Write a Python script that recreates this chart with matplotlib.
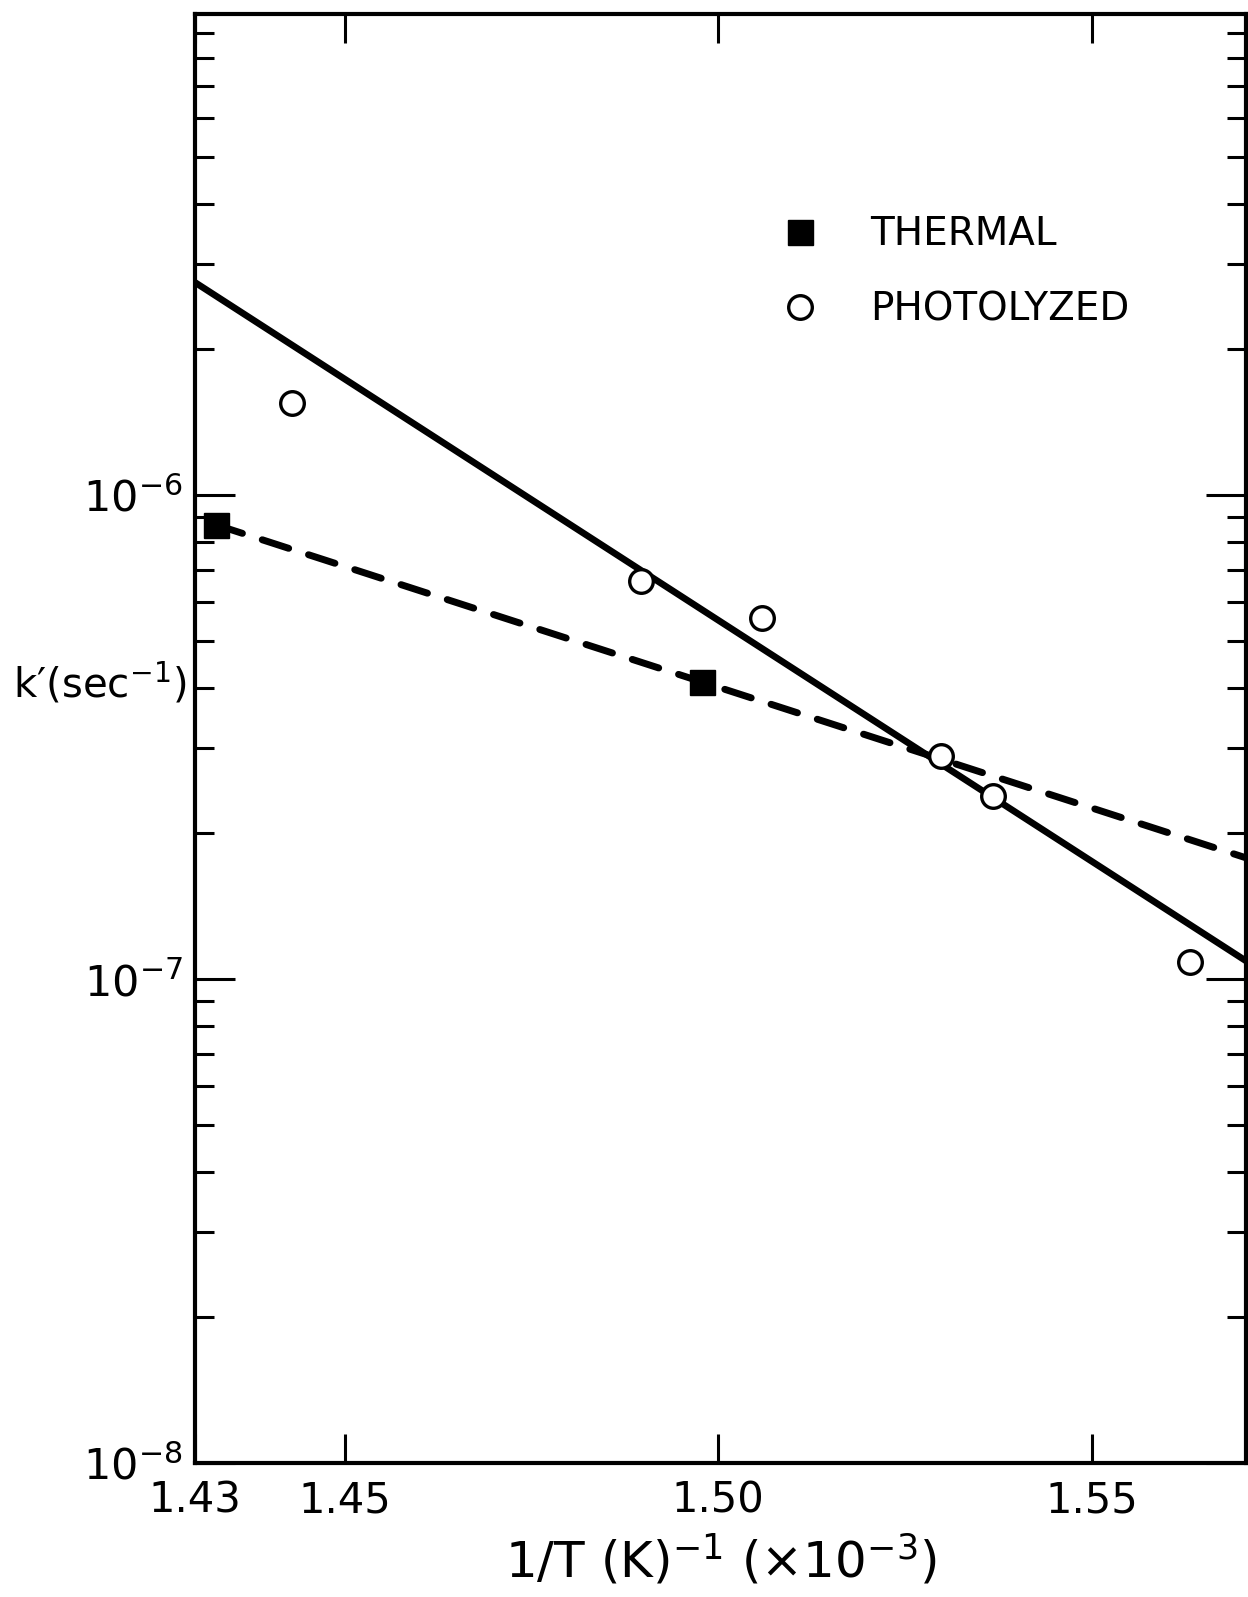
import numpy as np
import matplotlib
matplotlib.use("Agg")
import matplotlib.pyplot as plt
from matplotlib.ticker import LogLocator, NullFormatter, FixedLocator

# values
thermal_x = [1.4328, 1.4978]
thermal_k = [8.68e-7, 4.10e-7]
photo_x = [1.4430, 1.4897, 1.5059, 1.5298, 1.5368, 1.5631]
photo_k = [1.55e-6, 6.65e-7, 5.56e-7, 2.89e-7, 2.39e-7, 1.086e-7]

# end points of the two straight lines drawn through the data
photo_fit_x = [1.430, 1.5706]
photo_fit_k = [2.75e-6, 1.09e-7]
thermal_fit_x = [1.4328, 1.5706]
thermal_fit_k = [8.68e-7, 1.78e-7]

x_ticks = [1.43, 1.45, 1.50, 1.55]
x_tick_labels = ['1.43', '1.45', '1.50', '1.55']
y_ticks = [1e-8, 1e-7, 1e-6]
y_tick_labels = [r'$\mathregular{10^{-8}}$', r'$\mathregular{10^{-7}}$', r'$\mathregular{10^{-6}}$']

plt.rcParams['font.family'] = ['DejaVu Sans']
plt.rcParams['mathtext.fontset'] = 'dejavusans'

fig = plt.figure(figsize=(12.48, 15.97), dpi=100)
ax = fig.add_axes([0.1563, 0.0839, 0.8421, 0.9073])

ax.plot(photo_fit_x, photo_fit_k, color='black', lw=4.8, solid_capstyle='butt', zorder=2)
ax.plot(thermal_fit_x, thermal_fit_k, color='black', lw=5, dashes=(4.0, 3.0),
        dash_capstyle='round', zorder=2)

ax.plot(thermal_x, thermal_k, ls='none', marker='s', ms=18, mfc='black', mec='black',
        label='THERMAL', zorder=3)
ax.plot(photo_x, photo_k, ls='none', marker='o', ms=17, mfc='white', mec='black', mew=2.4,
        label='PHOTOLYZED', zorder=3)

ax.set_yscale('log')
ax.set_xlim(1.43, 1.5706)
ax.set_ylim(1e-8, 9.86e-6)

ax.xaxis.set_major_locator(FixedLocator(x_ticks))
ax.set_xticklabels(x_tick_labels)
ax.yaxis.set_major_locator(FixedLocator(y_ticks))
ax.set_yticklabels(y_tick_labels)
ax.yaxis.set_minor_locator(LogLocator(base=10, subs=np.arange(2, 10), numticks=20))
ax.yaxis.set_minor_formatter(NullFormatter())
ax.xaxis.set_minor_locator(FixedLocator([]))

for s in ax.spines.values():
    s.set_linewidth(3)

ax.tick_params(axis='x', which='major', direction='in', length=21, width=2.2,
               top=True, bottom=True, labelsize=30, pad=12)
ax.tick_params(axis='y', which='major', direction='in', length=29, width=2.2,
               left=True, right=True, labelsize=31, pad=9)
ax.tick_params(axis='y', which='minor', direction='in', length=14, width=2.2,
               left=True, right=True)

ax.text(-0.008, 0.538, "k′(sec$^{-1}$)", transform=ax.transAxes, ha='right', va='center',
        fontsize=29)
ax.set_xlabel("1/T (K)$^{-1}$ (×10$^{-3}$)", fontsize=36, labelpad=8)

ax.legend(loc='upper left', bbox_to_anchor=(0.557, 0.861), frameon=False,
          fontsize=28, handlelength=1.0, handletextpad=1.3, labelspacing=0.95,
          borderpad=0, borderaxespad=0, numpoints=1)

fig.savefig('out.png', dpi=100)
